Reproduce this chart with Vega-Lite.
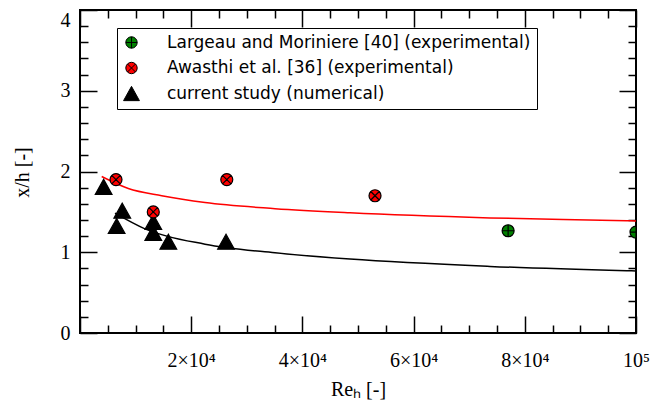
{
  "$schema": "https://vega.github.io/schema/vega-lite/v6.json",
  "width": 556,
  "height": 323,
  "autosize": {"type": "none"},
  "padding": {"left": 80, "top": 10, "right": 15, "bottom": 77},
  "background": "white",
  "config": {
    "view": {"stroke": "black", "strokeWidth": 2},
    "axis": {
      "domain": false, "grid": false, "ticks": true,
      "tickColor": "black", "tickWidth": 1.5,
      "labelFont": "Liberation Serif", "labelFontSize": 20, "labelColor": "black",
      "titleFont": "Liberation Serif", "titleFontSize": 20, "titleFontWeight": "normal", "titleColor": "black",
      "labelOverlap": false, "labelFlush": false, "labelBound": false
    }
  },
  "datasets": {
    "curves": [
      {"fit": "exp", "Re": 3903, "xh": 1.938},
      {"fit": "exp", "Re": 8687, "xh": 1.79},
      {"fit": "exp", "Re": 14694, "xh": 1.70},
      {"fit": "exp", "Re": 22482, "xh": 1.615},
      {"fit": "exp", "Re": 35072, "xh": 1.54},
      {"fit": "exp", "Re": 48561, "xh": 1.488},
      {"fit": "exp", "Re": 73741, "xh": 1.425},
      {"fit": "exp", "Re": 98327, "xh": 1.390},
      {"fit": "exp", "Re": 100000, "xh": 1.387},
      {"fit": "num", "Re": 6295, "xh": 1.485},
      {"fit": "num", "Re": 11691, "xh": 1.29},
      {"fit": "num", "Re": 22482, "xh": 1.100},
      {"fit": "num", "Re": 35072, "xh": 0.993},
      {"fit": "num", "Re": 48561, "xh": 0.915},
      {"fit": "num", "Re": 73741, "xh": 0.825},
      {"fit": "num", "Re": 98327, "xh": 0.771},
      {"fit": "num", "Re": 100000, "xh": 0.768}
    ],
    "points": [
      {"series": "current study (numerical)", "Re": 4250, "xh": 1.81},
      {"series": "current study (numerical)", "Re": 7600, "xh": 1.515},
      {"series": "current study (numerical)", "Re": 6590, "xh": 1.325},
      {"series": "current study (numerical)", "Re": 13180, "xh": 1.375},
      {"series": "current study (numerical)", "Re": 13180, "xh": 1.24},
      {"series": "current study (numerical)", "Re": 15890, "xh": 1.13},
      {"series": "current study (numerical)", "Re": 26260, "xh": 1.13},
      {"series": "Awasthi et al. [36] (experimental)", "Re": 6475, "xh": 1.90},
      {"series": "Awasthi et al. [36] (experimental)", "Re": 13180, "xh": 1.50},
      {"series": "Awasthi et al. [36] (experimental)", "Re": 26400, "xh": 1.90},
      {"series": "Awasthi et al. [36] (experimental)", "Re": 53060, "xh": 1.70},
      {"series": "Largeau and Moriniere [40] (experimental)", "Re": 77000, "xh": 1.266},
      {"series": "Largeau and Moriniere [40] (experimental)", "Re": 100000, "xh": 1.25}
    ]
  },
  "layer": [
    {
      "data": {"name": "curves"},
      "mark": {"type": "line", "strokeWidth": 1.5, "interpolate": "monotone", "clip": true},
      "encoding": {
        "x": {
          "field": "Re", "type": "quantitative",
          "scale": {"domain": [0, 100000], "nice": false, "zero": false},
          "axis": {
            "orient": "bottom",
            "values": [0,5000,10000,15000,20000,25000,30000,35000,40000,45000,50000,55000,60000,65000,70000,75000,80000,85000,90000,95000,100000],
            "tickSize": {"condition": {"test": "datum.value % 20000 === 0", "value": -17}, "value": -8},
            "labelPadding": 34,
            "labelExpr": "datum.value === 100000 ? '10⁵' : (datum.value > 0 && datum.value % 20000 === 0 ? (datum.value / 10000) + '×10⁴' : '')",
            "title": "Reₕ [-]",
            "titleX": 278, "titleY": 62, "titleBaseline": "alphabetic", "titleAlign": "center"
          }
        },
        "y": {
          "field": "xh", "type": "quantitative",
          "scale": {"domain": [0, 4], "nice": false, "zero": false},
          "axis": {
            "orient": "left",
            "values": [0,0.2,0.4,0.6,0.8,1,1.2,1.4,1.6,1.8,2,2.2,2.4,2.6,2.8,3,3.2,3.4,3.6,3.8,4],
            "tickSize": {"condition": {"test": "abs(datum.value - round(datum.value)) < 0.001", "value": -17}, "value": -8},
            "labelPadding": 27,
            "labelExpr": "abs(datum.value - round(datum.value)) < 0.001 ? format(datum.value, 'd') : ''",
            "labelBaseline": {"condition": {"test": "datum.value === 4", "value": "top"}, "value": "middle"},
            "title": "x/h [-]",
            "titleX": -58, "titleY": 162, "titleAngle": 270, "titleBaseline": "middle", "titleAlign": "center"
          }
        },
        "stroke": {
          "field": "fit", "type": "nominal",
          "scale": {"domain": ["exp", "num"], "range": ["#ff0000", "#000000"]},
          "legend": null
        }
      }
    },
    {
      "data": {"name": "points"},
      "mark": {"type": "point", "filled": true, "stroke": "black", "strokeWidth": 1.2, "opacity": 1, "fillOpacity": 1, "clip": true, "size": 144},
      "encoding": {
        "x": {
          "field": "Re", "type": "quantitative",
          "scale": {"domain": [0, 100000], "nice": false, "zero": false},
          "axis": {
            "orient": "top",
            "values": [0,5000,10000,15000,20000,25000,30000,35000,40000,45000,50000,55000,60000,65000,70000,75000,80000,85000,90000,95000,100000],
            "tickSize": {"condition": {"test": "datum.value % 20000 === 0", "value": -17}, "value": -8},
            "labels": false, "title": null
          }
        },
        "y": {
          "field": "xh", "type": "quantitative",
          "scale": {"domain": [0, 4], "nice": false, "zero": false},
          "axis": {
            "orient": "right",
            "values": [0,0.2,0.4,0.6,0.8,1,1.2,1.4,1.6,1.8,2,2.2,2.4,2.6,2.8,3,3.2,3.4,3.6,3.8,4],
            "tickSize": {"condition": {"test": "abs(datum.value - round(datum.value)) < 0.001", "value": -17}, "value": -8},
            "labels": false, "title": null
          }
        },
        "fill": {
          "field": "series", "type": "nominal",
          "scale": {
            "domain": ["Largeau and Moriniere [40] (experimental)", "Awasthi et al. [36] (experimental)", "current study (numerical)"],
            "range": ["#008000", "#ff0000", "#000000"]
          },
          "legend": {
            "title": null, "orient": "none", "legendX": 37, "legendY": 18,
            "direction": "vertical",
            "labelFont": "DejaVu Sans", "labelFontSize": 17, "labelColor": "black", "labelLimit": 600,
            "labelOffset": 27, "rowPadding": 7.5, "padding": 6,
            "symbolSize": 130, "symbolStrokeColor": "black", "symbolStrokeWidth": 1,
            "strokeColor": "black", "fillColor": "white", "cornerRadius": 0
          }
        },
        "shape": {
          "field": "series", "type": "nominal",
          "scale": {
            "domain": ["Largeau and Moriniere [40] (experimental)", "Awasthi et al. [36] (experimental)", "current study (numerical)"],
            "range": [
              "M-1,0A1,1 0 1,0 1,0A1,1 0 1,0 -1,0ZM-1,0L1,0M0,-1L0,1",
              "M-1,0A1,1 0 1,0 1,0A1,1 0 1,0 -1,0ZM-0.707,-0.707L0.707,0.707M-0.707,0.707L0.707,-0.707",
              "M0,-1.25L-1.39,1.25L1.39,1.25Z"
            ]
          }
        }
      }
    }
  ],
  "resolve": {"axis": {"x": "independent", "y": "independent"}}
}
